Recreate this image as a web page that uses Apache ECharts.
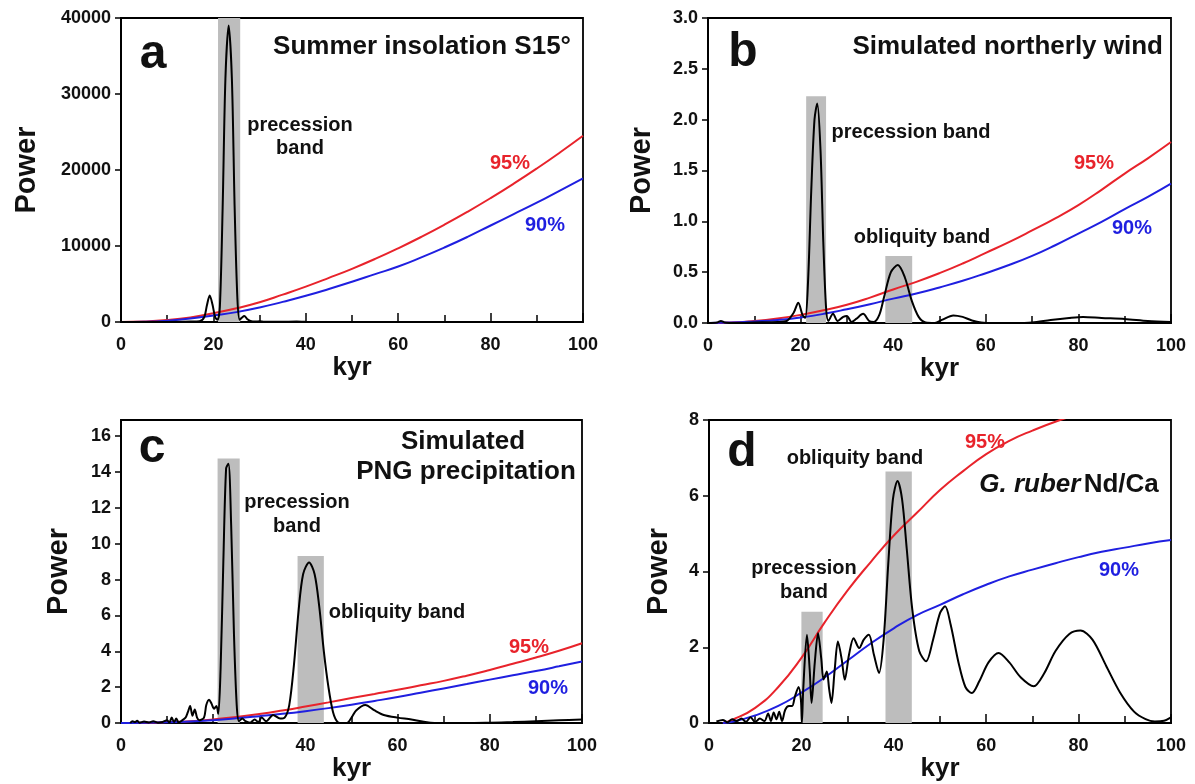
<!DOCTYPE html>
<html><head><meta charset="utf-8">
<script src="https://cdn.jsdelivr.net/npm/echarts@6/dist/echarts.min.js"></script>
<style>html,body{margin:0;padding:0;background:#fff}#c{width:1195px;height:784px}</style>
</head><body><div id="c"></div>
<script>
// ---------- DATA ----------
const xTicks = [0, 20, 40, 60, 80, 100];
const yTicksA = [0, 10000, 20000, 30000, 40000];
const yTicksB = [0, 0.5, 1.0, 1.5, 2.0, 2.5, 3.0];
const yTicksC = [0, 2, 4, 6, 8, 10, 12, 14, 16];
const yTicksD = [0, 2, 4, 6, 8];

// panel a: Summer insolation S15°
const blackA = [[0,0],[10,0],[15,50],[17,100],[18,600],[18.6,2200],[19.2,3500],[19.8,2300],[20.4,600],[20.9,300],[21.4,2000],[22,15000],[22.6,32000],[23.3,39000],[24,32000],[24.6,15000],[25.2,3000],[25.7,300],[26.2,600],[26.7,800],[27.3,400],[28,150],[29,50],[30,100],[31,20],[35,30],[38,60],[40,20],[45,0],[100,0]];
const redA = [[0,0],[5,60],[10,250],[15,600],[20,1150],[25,1800],[30,2600],[35,3600],[40,4650],[45,5800],[50,7000],[55,8300],[60,9700],[65,11200],[70,12800],[75,14500],[80,16300],[85,18200],[90,20200],[95,22300],[100,24500]];
const blueA = [[0,0],[5,40],[10,180],[15,450],[20,850],[25,1300],[30,1900],[35,2650],[40,3450],[45,4350],[50,5300],[55,6300],[60,7300],[65,8500],[70,9800],[75,11200],[80,12700],[85,14200],[90,15700],[95,17300],[100,18900]];
const bandsA = [[21.0, 25.8, 40000]];

// panel b: Simulated northerly wind
const blackB = [[0,0],[2,0.005],[2.8,0.02],[3.6,0.005],[6,0],[10,0.005],[15,0.01],[17,0.02],[18.5,0.1],[19.5,0.2],[20.4,0.08],[21,0.05],[21.6,0.4],[22.3,1.3],[23,2.0],[23.6,2.16],[24.3,1.7],[24.9,0.8],[25.5,0.15],[26,0.02],[27,0.09],[28,0.02],[29.2,0.06],[30,0.07],[31,0.01],[32,0.04],[33.5,0.09],[34.8,0.02],[35.8,0.01],[37,0.08],[38,0.25],[39.5,0.5],[41,0.57],[42.5,0.45],[44,0.22],[45.5,0.06],[47,0.005],[49,0],[50.5,0.03],[53,0.075],[55,0.06],[57,0.025],[59,0.005],[62,0],[66,0],[70,0.005],[74,0.03],[78,0.05],[81,0.06],[85,0.05],[90,0.04],[95,0.02],[100,0.01]];
const redB = [[0,0],[5,0.005],[10,0.02],[15,0.045],[20,0.08],[25,0.125],[30,0.18],[35,0.25],[40,0.33],[45,0.405],[50,0.49],[55,0.585],[60,0.69],[65,0.795],[70,0.91],[75,1.03],[80,1.16],[85,1.31],[90,1.47],[95,1.62],[100,1.78]];
const blueB = [[0,0],[5,0.004],[10,0.015],[15,0.03],[20,0.055],[25,0.09],[30,0.135],[35,0.185],[40,0.24],[45,0.29],[50,0.35],[55,0.415],[60,0.49],[65,0.57],[70,0.66],[75,0.765],[80,0.88],[85,0.995],[90,1.12],[95,1.24],[100,1.37]];
const bandsB = [[21.2, 25.5, 2.23], [38.3, 44.1, 0.66]];

// panel c: Simulated PNG precipitation
const blackC = [[2,0],[2.5,0.1],[3,0.05],[3.5,0.12],[4,0.02],[5,0.08],[6,0.03],[7,0.1],[8,0.02],[9,0.06],[10,0.15],[10.5,0.03],[11,0.3],[11.5,0.05],[12,0.25],[12.5,0.02],[13,0.1],[14,0.3],[14.5,0.6],[15,0.95],[15.5,0.4],[16,0.75],[16.5,0.3],[17,0.15],[18,0.3],[18.5,1.0],[19.1,1.3],[19.6,1.1],[20.2,0.8],[20.7,0.95],[21.1,0.5],[21.6,3],[22.2,9],[22.8,14.2],[23.3,14.46],[23.9,11],[24.5,5],[25.1,1],[25.6,0.1],[26.3,0.25],[27,0.1],[28,0.02],[29,0.2],[29.8,0.05],[30.5,0.3],[31.5,0.1],[33,0.45],[34.5,0.25],[35.5,0.3],[36.5,1.0],[37.5,3.2],[38.5,6.2],[39.5,8.3],[40.8,8.95],[42,8.3],[43,6.5],[44,4.0],[45,2.0],[46,0.6],[47,0.05],[48,0],[49,0],[50,0.3],[51,0.7],[53,1.0],[55,0.7],[57,0.45],[60,0.3],[63,0.2],[66,0.05],[68,0],[75,0],[80,0.02],[85,0.05],[90,0.1],[95,0.15],[100,0.2]];
const redC = [[0,0],[5,0.01],[10,0.05],[15,0.1],[20,0.2],[25,0.33],[30,0.5],[35,0.7],[40,0.92],[45,1.15],[50,1.39],[55,1.62],[60,1.85],[65,2.1],[70,2.35],[75,2.64],[80,2.96],[85,3.3],[90,3.65],[95,4.03],[100,4.45]];
const blueC = [[0,0],[5,0.01],[10,0.04],[15,0.09],[20,0.16],[25,0.26],[30,0.38],[35,0.51],[40,0.66],[45,0.83],[50,1.02],[55,1.23],[60,1.45],[65,1.69],[70,1.93],[75,2.17],[80,2.42],[85,2.66],[90,2.9],[95,3.16],[100,3.43]];
const bandsC = [[20.95, 25.75, 14.75], [38.3, 44.0, 9.32]];

// panel d: G. ruber Nd/Ca
const blackD = [[1.6,0.04],[3,0.08],[4,0.02],[5,0.1],[6,0.05],[7,0.12],[8,0.03],[9,0.15],[10,0.02],[11,0.12],[12,0.05],[12.8,0.25],[13.4,0.05],[14,0.28],[14.6,0.1],[15.2,0.3],[15.8,0.05],[16.5,0.35],[17.3,0.45],[18,0.45],[18.6,0.7],[19.4,0.95],[19.9,0.6],[20.1,0],[20.4,0.9],[21.2,2.33],[21.8,1.4],[22.2,0.53],[22.9,1.6],[23.6,2.37],[24.3,1.7],[24.8,1.15],[25.5,1.36],[26,0.9],[26.5,0.53],[27.2,1.4],[27.9,2.15],[28.7,1.7],[29.4,1.14],[30.3,1.8],[31.3,2.24],[32.5,1.98],[33.5,2.2],[34.6,2.33],[35.7,1.8],[36.8,1.32],[37.8,2.2],[38.8,4.2],[39.8,5.9],[40.8,6.39],[41.8,5.9],[42.8,4.6],[44,3.0],[45.5,1.9],[47,1.63],[48.5,2.2],[50,2.9],[51.1,3.08],[52.3,2.6],[54,1.6],[55.5,0.95],[56.9,0.79],[58.5,1.1],[60.5,1.6],[62.7,1.85],[65,1.6],[67.5,1.2],[70.3,0.97],[72.5,1.3],[75,1.9],[78,2.35],[80.4,2.44],[83,2.2],[86,1.5],[89,0.8],[92,0.3],[94.5,0.1],[96.5,0.04],[98.5,0.06],[100,0.15]];
const redD = [[3,0],[5,0.08],[10,0.4],[15,0.95],[20,1.72],[25,2.65],[30,3.5],[35,4.25],[40,4.95],[45,5.55],[50,6.15],[55,6.65],[60,7.1],[65,7.45],[70,7.72],[76,8.0],[80,8.15]];
const blueD = [[3,0],[5,0.03],[10,0.2],[15,0.45],[20,0.8],[25,1.2],[30,1.65],[35,2.1],[40,2.5],[45,2.85],[50,3.12],[55,3.4],[60,3.65],[65,3.87],[70,4.05],[75,4.22],[80,4.38],[85,4.52],[90,4.63],[95,4.74],[100,4.83]];
const bandsD = [[20.0, 24.6, 2.94], [38.2, 43.9, 6.64]];

// ---------- CHART ----------
const FF = '"Liberation Sans", Arial, Helvetica, sans-serif';
const RED = '#e8232b', BLUE = '#1f1fe0', GRAY = '#bdbdbd';

const panels = [
  {grid:{left:121, top:18, width:462, height:304}, ymax:40000, yticks:yTicksA, fmt:v=>String(v), nameGap:80, black:blackA, red:redA, blue:blueA, bands:bandsA},
  {grid:{left:708, top:18, width:463, height:305}, ymax:3.0, yticks:yTicksB, fmt:v=>v.toFixed(1), nameGap:52, black:blackB, red:redB, blue:blueB, bands:bandsB},
  {grid:{left:121, top:420, width:461, height:303}, ymax:16.9, yticks:yTicksC, fmt:v=>String(v), nameGap:48, black:blackC, red:redC, blue:blueC, bands:bandsC},
  {grid:{left:709, top:420, width:462, height:303}, ymax:8, yticks:yTicksD, fmt:v=>String(v), nameGap:36, black:blackD, red:redD, blue:blueD, bands:bandsD}
];

const grid = [], xAxis = [], yAxis = [], series = [];
panels.forEach((p, i) => {
  grid.push(Object.assign({show:true, borderColor:'#000', borderWidth:1.8, backgroundColor:'transparent'}, p.grid));
  xAxis.push({
    gridIndex:i, type:'value', min:0, max:100, interval:20,
    name:'kyr', nameLocation:'middle', nameGap:27,
    nameTextStyle:{fontFamily:FF, fontWeight:'bold', fontSize:26, color:'#111'},
    axisLine:{show:true, onZero:false, lineStyle:{color:'#000', width:2}},
    axisTick:{show:true, inside:true, length:9, lineStyle:{color:'#000', width:1.5}},
    minorTick:{show:true, splitNumber:2, length:7, lineStyle:{color:'#000', width:1.5}},
    axisLabel:{margin:14, fontFamily:FF, fontWeight:'bold', fontSize:18, color:'#111', customValues:xTicks},
    splitLine:{show:false}
  });
  yAxis.push({
    gridIndex:i, type:'value', min:0, max:p.ymax,
    name:'Power', nameLocation:'middle', nameGap:p.nameGap,
    nameTextStyle:{fontFamily:FF, fontWeight:'bold', fontSize:29, color:'#111'},
    axisLine:{show:true, onZero:false, lineStyle:{color:'#000', width:2}},
    axisTick:{show:true, inside:false, length:6, lineStyle:{color:'#000', width:1.5}, customValues:p.yticks},
    axisLabel:{margin:10, fontFamily:FF, fontWeight:'bold', fontSize:18, color:'#111', customValues:p.yticks, formatter:p.fmt},
    splitLine:{show:false}
  });
  series.push({
    type:'custom', xAxisIndex:i, yAxisIndex:i, z:1, silent:true,
    data: p.bands,
    renderItem:(params, api) => {
      const a = api.coord([api.value(0), api.value(2)]);
      const b = api.coord([api.value(1), 0]);
      return {type:'rect', shape:{x:a[0], y:a[1], width:b[0]-a[0], height:b[1]-a[1]}, style:{fill:GRAY}};
    }
  });
  series.push({type:'line', xAxisIndex:i, yAxisIndex:i, z:3, data:p.red, smooth:true, showSymbol:false, symbol:'none', clip:true, lineStyle:{color:RED, width:2}});
  series.push({type:'line', xAxisIndex:i, yAxisIndex:i, z:3, data:p.blue, smooth:true, showSymbol:false, symbol:'none', clip:true, lineStyle:{color:BLUE, width:2}});
  series.push({type:'line', xAxisIndex:i, yAxisIndex:i, z:4, data:p.black, smooth:0.3, showSymbol:false, symbol:'none', clip:true, lineStyle:{color:'#000', width:2}});
});

function txt(text, x, y, size, opts) {
  return {type:'text', x:x, y:y, z:100, style:Object.assign({text:text, font:'bold ' + size + 'px ' + FF, fill:'#111', textAlign:'center', textVerticalAlign:'middle'}, opts || {})};
}

const graphic = [
  // panel a
  txt('a', 153, 55, 48),
  txt('Summer insolation S15°', 571, 47, 26, {textAlign:'right'}),
  txt('precession', 300, 125, 20),
  txt('band', 300, 148, 20),
  txt('95%', 510, 163, 20, {fill:RED}),
  txt('90%', 545, 225, 20, {fill:BLUE}),
  // panel b
  txt('b', 743, 53, 48),
  txt('Simulated northerly wind', 1163, 47, 26, {textAlign:'right'}),
  txt('precession band', 911, 132, 20),
  txt('obliquity band', 922, 237, 20),
  txt('95%', 1094, 163, 20, {fill:RED}),
  txt('90%', 1132, 228, 20, {fill:BLUE}),
  // panel c
  txt('c', 152, 449, 48),
  txt('Simulated', 463, 442, 26),
  txt('PNG precipitation', 466, 472, 26),
  txt('precession', 297, 502, 20),
  txt('band', 297, 526, 20),
  txt('obliquity band', 397, 612, 20),
  txt('95%', 529, 647, 20, {fill:RED}),
  txt('90%', 548, 688, 20, {fill:BLUE}),
  // panel d
  txt('d', 742, 453, 48),
  txt('obliquity band', 855, 458, 20),
  {type:'text', x:1069, y:485, z:100, style:{text:'{i|G. ruber} {n|Nd/Ca}', textAlign:'center', textVerticalAlign:'middle',
    rich:{i:{fontFamily:FF, fontWeight:'bold', fontStyle:'italic', fontSize:26, fill:'#111'}, n:{fontFamily:FF, fontWeight:'bold', fontSize:26, fill:'#111'}}}},
  txt('95%', 985, 442, 20, {fill:RED}),
  txt('90%', 1119, 570, 20, {fill:BLUE}),
  txt('precession', 804, 568, 20),
  txt('band', 804, 592, 20)
];

const chart = echarts.init(document.getElementById('c'), null, {renderer:'canvas'});
chart.setOption({animation:false, backgroundColor:'#fff', grid, xAxis, yAxis, series, graphic});
</script>
</body></html>
